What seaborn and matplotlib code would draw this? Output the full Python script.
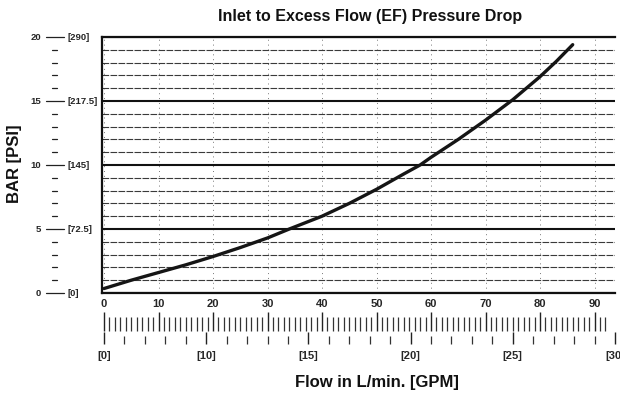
import numpy as np
import pandas as pd
import matplotlib.pyplot as plt
import seaborn as sns

# Data (flow in L/min -> pressure drop in bar)
flow_lpm = [0, 5, 10, 15, 20, 25, 30, 34, 40, 45, 50, 55, 58, 60, 65, 70, 75, 80, 83, 86]
drop_bar = [0.35, 1.0, 1.6, 2.2, 2.85, 3.55, 4.3, 5.0, 6.0, 7.0, 8.1, 9.3, 10.0, 10.6, 12.0, 13.5, 15.1, 16.9, 18.1, 19.4]

bar_major = [0, 5, 10, 15, 20]
bar_labels = ['0', '5', '10', '15', '20']
psi_labels = ['[0]', '[72.5]', '[145]', '[217.5]', '[290]']
bar_minor = list(range(0, 21))

flow_ticks = [0, 10, 20, 30, 40, 50, 60, 70, 80, 90]
ruler_minor = list(range(0, 93))

gpm_label_pos = [0, 18.8, 37.6, 56.4, 75.2, 94.0]
gpm_labels = ['[0]', '[10]', '[15]', '[20]', '[25]', '[30]']

df = pd.DataFrame({'flow': flow_lpm, 'bar': drop_bar})

sns.set_style('white')
plt.rcParams['font.family'] = ['Liberation Sans', 'DejaVu Sans']
plt.rcParams['font.weight'] = 'bold'

W, H = 620, 395
fig = plt.figure(figsize=(W / 100, H / 100), dpi=100)


def px(l, t, r, b):
    return [l / W, 1 - b / H, (r - l) / W, (b - t) / H]


XLIM = (-0.37, 93.76)

# main plot
ax = fig.add_axes(px(102, 37, 615, 293))
sns.lineplot(data=df, x='flow', y='bar', color='#151515', lw=2.4, ax=ax)
ax.set_xlim(*XLIM)
ax.set_ylim(0, 20)

ax.set_yticks(bar_major)
ax.set_yticks(bar_minor, minor=True)
ax.yaxis.grid(True, which='minor', ls=(0, (6, 1.2)), color='#3a3a3a', lw=0.8)
ax.yaxis.grid(True, which='major', color='#111111', lw=1.5)
ax.set_xticks(flow_ticks)
ax.xaxis.grid(True, which='major', ls=(0, (1, 4)), color='#777777', lw=0.7)
ax.tick_params(axis='y', which='both', length=0, labelleft=False)
ax.tick_params(axis='x', length=0, pad=4, labelsize=8)
ax.set_xlabel('')
ax.set_ylabel('')
for s in ['left', 'bottom', 'top']:
    ax.spines[s].set_color('#111111')
    ax.spines[s].set_linewidth(1.6)
ax.spines['right'].set_visible(False)

# left BAR / PSI scale
ytr = ax.get_yaxis_transform()
for v, lb, lp in zip(bar_major, bar_labels, psi_labels):
    ax.text((41 - 102) / 513, v, lb, transform=ytr, ha='right', va='center', fontsize=6.8,
            clip_on=False)
    ax.text((67 - 102) / 513, v, lp, transform=ytr, ha='left', va='center', fontsize=6.8,
            clip_on=False)
    ax.plot([(46 - 102) / 513, (64 - 102) / 513], [v, v], transform=ytr, color='#222222',
            lw=0.9, clip_on=False)
for v in bar_minor:
    if v not in bar_major:
        ax.plot([(52 - 102) / 513, (57 - 102) / 513], [v, v], transform=ytr, color='#222222',
                lw=0.9, clip_on=False)

# L/min ruler
ax_r = fig.add_axes(px(102, 315, 615, 331))
ax_r.set_xlim(*XLIM)
ax_r.set_xticks(flow_ticks)
ax_r.set_xticks(ruler_minor, minor=True)
ax_r.set_yticks([])
ax_r.tick_params(axis='x', which='major', direction='in', length=14, width=1.0, color='#222222',
                 bottom=True, labelbottom=False)
ax_r.tick_params(axis='x', which='minor', direction='in', length=10, width=0.9, color='#333333',
                 bottom=True)
for s in ax_r.spines.values():
    s.set_visible(False)
ax_r.patch.set_alpha(0)

# GPM scale
ax_g = fig.add_axes(px(102, 335, 615, 344))
ax_g.set_xlim(*XLIM)
ax_g.set_xticks(gpm_label_pos)
ax_g.set_xticklabels(gpm_labels)
ax_g.set_xticks(np.linspace(gpm_label_pos[0], gpm_label_pos[-1], 26), minor=True)
ax_g.set_yticks([])
ax_g.tick_params(axis='x', which='major', direction='in', length=9, width=1.0, color='#222222',
                 bottom=True, pad=5, labelsize=8)
ax_g.tick_params(axis='x', which='minor', direction='in', length=6, width=0.9, color='#333333',
                 bottom=True)
for s in ax_g.spines.values():
    s.set_visible(False)
ax_g.patch.set_alpha(0)

fig.text(370 / W, 1 - 16 / H, 'Inlet to Excess Flow (EF) Pressure Drop', ha='center', va='center',
         fontsize=11.5, fontweight='bold', color='#111111')
fig.text(377 / W, 1 - 383 / H, 'Flow in L/min. [GPM]', ha='center', va='center',
         fontsize=12, fontweight='bold', color='#111111')
fig.text(15 / W, 1 - 164 / H, 'BAR [PSI]', ha='center', va='center', rotation=90,
         fontsize=12, fontweight='bold', color='#111111')

fig.savefig('out.png', dpi=100)
